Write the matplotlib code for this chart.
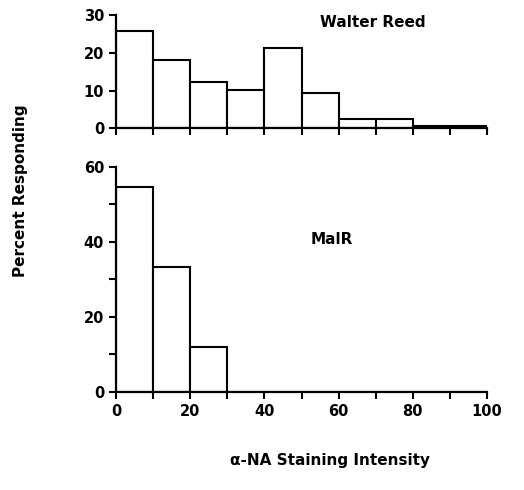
import numpy as np
import matplotlib.pyplot as plt

# staining intensity bins (left edges) and percent responding per bin
bin_edges = [0, 10, 20, 30, 40, 50, 60, 70, 80, 90]
walter_reed = [25.8, 18.1, 12.2, 10.3, 21.3, 9.5, 2.5, 2.5, 0.7, 0.7]
malr = [54.7, 33.3, 12.0, 0, 0, 0, 0, 0, 0, 0]

x_ticks = [0, 20, 40, 60, 80, 100]
top_yticks = [0, 10, 20, 30]
bottom_yticks = [0, 20, 40, 60]

plt.rcParams['font.family'] = 'DejaVu Sans'
plt.rcParams['font.weight'] = 'bold'

fig = plt.figure(figsize=(5.24, 4.90), dpi=100)
ax1 = fig.add_axes([0.2214, 0.7378, 0.708, 0.2316])
ax2 = fig.add_axes([0.2214, 0.2000, 0.708, 0.4592])

for ax in (ax1, ax2):
    for side in ('top', 'right'):
        ax.spines[side].set_visible(False)
    for side in ('left', 'bottom'):
        ax.spines[side].set_linewidth(1.6)
    ax.set_xlim(0, 100)
    ax.set_xticks(np.arange(0, 101, 10), minor=True)
    ax.set_xticks(x_ticks)
    ax.tick_params(which='both', direction='out', width=1.5, length=5, labelsize=10.5)

ax1.bar(bin_edges, walter_reed, width=10, align='edge', facecolor='white',
        edgecolor='black', linewidth=1.5)
ax1.set_ylim(0, 30)
ax1.set_yticks(top_yticks)
ax1.tick_params(axis='x', which='both', labelbottom=False)
ax1.text(0.693, 0.93, 'Walter Reed', transform=ax1.transAxes, ha='center', va='center',
         fontsize=11, fontweight='bold')

ax2.bar(bin_edges, malr, width=10, align='edge', facecolor='white',
        edgecolor='black', linewidth=1.5)
ax2.set_ylim(0, 60)
ax2.set_yticks(bottom_yticks)
ax2.set_yticks([10, 30, 50], minor=True)
ax2.text(0.582, 0.676, 'MalR', transform=ax2.transAxes, ha='center', va='center',
         fontsize=11, fontweight='bold')

fig.text(0.04, 0.61, 'Percent Responding', rotation=90, ha='center', va='center',
         fontsize=11, fontweight='bold')
fig.text(0.63, 0.06, '\u03b1-NA Staining Intensity', ha='center', va='center',
         fontsize=11, fontweight='bold')

fig.savefig('out.png', dpi=100)
